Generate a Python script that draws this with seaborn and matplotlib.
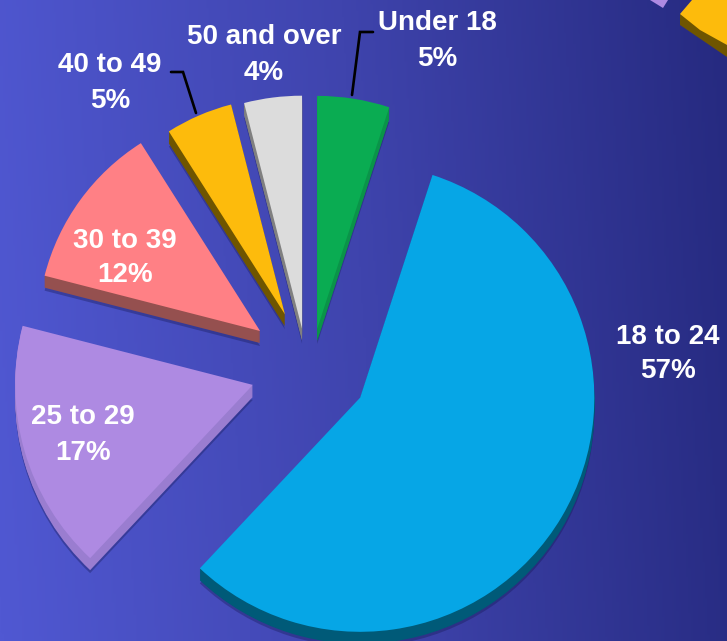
import numpy as np
import seaborn as sns
import matplotlib.pyplot as plt
from matplotlib.patches import Polygon

# shares in clockwise order from 12 o'clock
groups = ['Under 18', '18 to 24', '25 to 29', '30 to 39', '40 to 49', '50 and over']
shares = [5, 57, 17, 12, 5, 4]

top_colors = ['#0aac52', '#06a6e6', '#ae8ae2', '#ff8085', '#fdbb0c', '#dcdcdc']
side_colors = ['#0a9449', '#005a78', '#9a7dd0', '#95504f', '#6f5500', '#808080']

W, H = 727, 641
R = 233
cx, cy = 311, H - 368
# ax.pie adds explode as is, not as a share of the radius
explode = [R * e for e in [0.17, 0.25, 0.26, 0.27, 0.26, 0.17]]
size_adj = [1.0, 1.005, 1.02, 0.955, 0.93, 1.0]
nudge = [(0, 0), (-1, 0), (0, 0), (0, 0), (-2, -2), (-4, 0)]
depth = 12

sns.set_theme(style='white')
plt.rcParams['font.family'] = ['Liberation Sans', 'DejaVu Sans']

fig = plt.figure(figsize=(W / 100, H / 100), dpi=100)
ax = fig.add_axes([0, 0, 1, 1])

# background gradient, lighter at the lower left
cmap = sns.blend_palette(['#5058d2', '#3f44ad', '#262a80'], as_cmap=True)
xx, yy = np.meshgrid(np.linspace(0, 1, 300), np.linspace(0, 1, 300))
ax.imshow(xx + 0.06 * (1 - yy), cmap=cmap, extent=(0, W, 0, H), origin='upper',
          aspect='auto', vmin=0, vmax=1.06, zorder=0)


def draw_pie(colors, dy, z, alpha=1):
    wedges, _ = ax.pie(shares, colors=colors, explode=explode, startangle=90,
                       counterclock=False, radius=R, center=(cx, cy - dy), frame=True,
                       wedgeprops=dict(linewidth=0, alpha=alpha, zorder=z))
    for w, k, (nx, ny) in zip(wedges, size_adj, nudge):
        w.set_radius(R * k)
        w.set_center((w.center[0] + nx, w.center[1] + ny))


# soft shadow, then the side walls, then the top faces
draw_pie(['#14164f'] * 6, depth + 3, 1, alpha=0.35)
for d in range(depth, 0, -1):
    draw_pie(side_colors, d, 2)
draw_pie(top_colors, 0, 3)

# bits of another chart cut off in the top right corner
ax.add_patch(Polygon([(680, H - 25), (727, H - 57), (727, H - 45), (680, H - 14)], color='#6f5500', lw=0, zorder=3))
ax.add_patch(Polygon([(680, H - 14), (692, H), (727, H), (727, H - 45), (700, H - 30)], color='#fdbb0c', lw=0, zorder=4))
ax.add_patch(Polygon([(650, H), (668, H), (663, H - 8)], color='#ae8ae2', lw=0, zorder=4))

# leader lines
ax.plot([352, 360, 373], [H - 95, H - 32, H - 32], color='black', lw=1.9, zorder=5, solid_joinstyle='miter')
ax.plot([196, 183, 171], [H - 113, H - 72, H - 72], color='black', lw=1.9, zorder=5, solid_joinstyle='miter')

label_xy = [(437, 41), (668, 354), (83, 435), (125, 258), (110, 83), (264, 55)]
for name, val, (x, y) in zip(groups, shares, label_xy):
    ax.text(x, H - y, f'{name}\n{val}%', color='white', fontsize=20, fontweight='bold',
            ha='center', va='center', linespacing=1.45, zorder=6)

ax.set_xlim(0, W)
ax.set_ylim(0, H)
ax.set_aspect('auto')
ax.axis('off')

fig.savefig('out.png', dpi=100)
